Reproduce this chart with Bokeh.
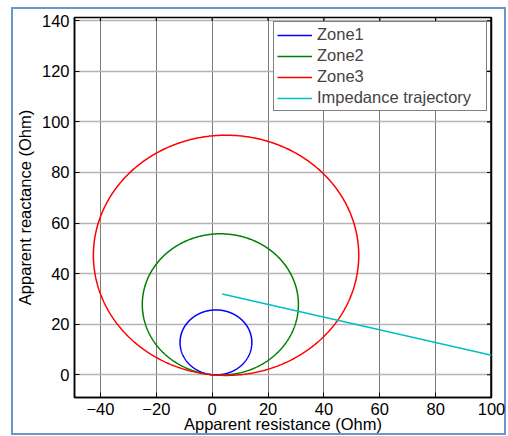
import numpy as np
from bokeh.plotting import figure
from bokeh.models import Range1d, FixedTicker, Legend, LegendItem
from bokeh.embed import file_html
from bokeh.resources import INLINE

# ---- data ----
zone_names = ["Zone1", "Zone2", "Zone3"]
zone_reach = [25.7, 55.9, 95.0]          # mho circle diameters (Ohm)
zone_angle_deg = [84.0, 84.0, 84.0]      # characteristic angle
zone_colors = ["#0000ff", "#008000", "#ff0000"]

traj_r = [3.6, 100.0]                    # apparent resistance (Ohm)
traj_x = [31.9, 7.7]                     # apparent reactance (Ohm)
traj_name = "Impedance trajectory"
traj_color = "#00bfbf"

x_ticks = [-40, -20, 0, 20, 40, 60, 80, 100]
y_ticks = [0, 20, 40, 60, 80, 100, 120, 140]
x_lo, x_hi = -49.3, 100.0
y_lo, y_hi = -9.0, 141.3

FONT = "Liberation Sans"
FS = "16.5px"
BLUE = "#6a96cf"

p = figure(width=508, height=436, output_backend="svg", toolbar_location=None,
           x_range=Range1d(x_lo, x_hi), y_range=Range1d(y_lo, y_hi),
           min_border_left=74, min_border_right=17, min_border_top=17,
           min_border_bottom=39)
p.outline_line_color = "black"
p.outline_line_width = 1.5
p.background_fill_color = "white"
p.border_fill_alpha = 0.0

# outer light-blue picture frame (drawn as CSS background behind the canvas)
p.styles = {
    "background-color": "white",
    "background-image": ", ".join([f"linear-gradient({BLUE},{BLUE})"] * 4),
    "background-position": "11px 7px, 504px 7px, 11px 7px, 11px 433px",
    "background-size": "2px 428px, 2px 428px, 495px 2px, 495px 2px",
    "background-repeat": "no-repeat",
}

for ax in (p.xaxis[0], p.yaxis[0]):
    ax.major_label_text_font = FONT
    ax.major_label_text_font_size = FS
    ax.major_label_text_color = "black"
    ax.axis_label_text_font = FONT
    ax.axis_label_text_font_size = FS
    ax.axis_label_text_font_style = "normal"
    ax.axis_label_text_color = "black"
    ax.major_tick_in = 5
    ax.major_tick_out = 0
    ax.minor_tick_in = 0
    ax.minor_tick_out = 0
    ax.axis_line_color = "black"
    ax.axis_line_width = 1.5
    ax.major_tick_line_color = "black"
    ax.major_label_standoff = 5

p.xaxis[0].ticker = FixedTicker(ticks=x_ticks)
p.yaxis[0].ticker = FixedTicker(ticks=y_ticks)
p.xaxis[0].axis_label = "Apparent resistance (Ohm)"
p.yaxis[0].axis_label = "Apparent reactance (Ohm)"
p.xaxis[0].axis_label_standoff = -3
p.yaxis[0].axis_label_standoff = 5

p.xgrid.ticker = FixedTicker(ticks=x_ticks)
p.ygrid.ticker = FixedTicker(ticks=y_ticks)
p.xgrid.grid_line_color = "#7a7a7a"
p.xgrid.grid_line_width = 1
p.ygrid.grid_line_color = "#b4b4b4"
p.ygrid.grid_line_width = 1.5

# inward tick marks on the top and right edges of the box (half clipped by frame)
p.scatter(x_ticks, [y_hi] * len(x_ticks), marker="dash", angle=np.pi / 2,
          size=7, line_color="black", line_width=1.2)
p.scatter([x_hi] * len(y_ticks), y_ticks, marker="dash",
          size=9, line_color="black", line_width=1.2)
# slightly heavier right edge of the box
p.line([x_hi, x_hi], [y_lo, y_hi], line_color="black", line_width=2.5)

items = []
t = np.linspace(0, 2 * np.pi, 721)
for name, z, ang, col in zip(zone_names, zone_reach, zone_angle_deg, zone_colors):
    a = np.deg2rad(ang)
    cx, cy, r = z / 2 * np.cos(a), z / 2 * np.sin(a), z / 2
    rr = p.line(cx + r * np.cos(t), cy + r * np.sin(t), line_color=col, line_width=1.5)
    items.append(LegendItem(label=name, renderers=[rr]))

rt = p.line(traj_r, traj_x, line_color=traj_color, line_width=1.5)
items.append(LegendItem(label=traj_name, renderers=[rt]))

legend = Legend(items=items, location="top_right", margin=4, padding=3, spacing=2,
                glyph_width=35, glyph_height=18, label_height=18, label_standoff=5,
                label_width=166,
                label_text_font=FONT, label_text_font_size=FS,
                border_line_color="black", border_line_width=1.5,
                background_fill_color="white", background_fill_alpha=1.0)
p.add_layout(legend)

open("out.html", "w").write(file_html(p, INLINE))
